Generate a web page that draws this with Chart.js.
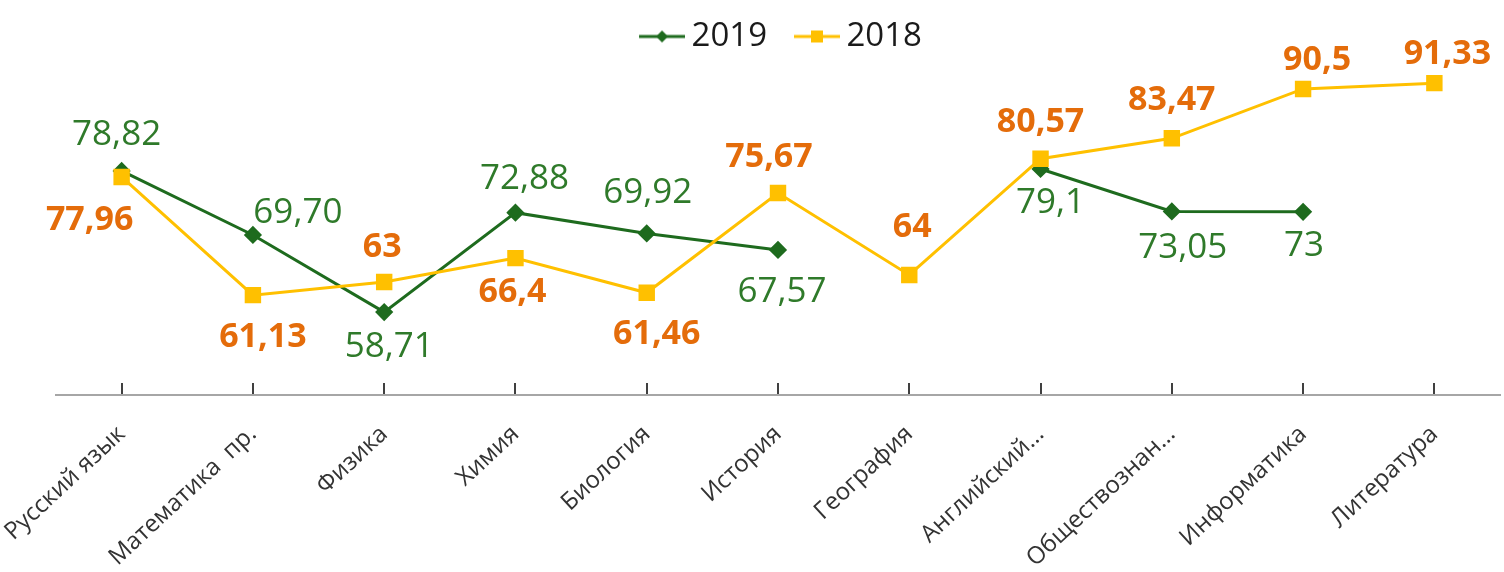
<!DOCTYPE html>
<html>
<head>
<meta charset="utf-8">
<script src="https://cdn.jsdelivr.net/npm/chart.js@4.4.1/dist/chart.umd.min.js"></script>
<style>
  html, body { margin: 0; padding: 0; background: #fff; overflow: hidden; }
  #wrap { width: 1504px; height: 572px; }
</style>
</head>
<body>
<div id="wrap"><canvas id="examChart"></canvas></div>
<script>
// данные
const subjects = ['Русский язык', 'Математика  пр.', 'Физика', 'Химия', 'Биология', 'История',
  'География', 'Английский...', 'Обществознан...', 'Информатика', 'Литература'];
const scores2019 = [78.82, 69.70, 58.71, 72.88, 69.92, 67.57, null, 79.1, 73.05, 73, null];
const scores2018 = [77.96, 61.13, 63, 66.4, 61.46, 75.67, 64, 80.57, 83.47, 90.5, 91.33];
const text2019 = ['78,82', '69,70', '58,71', '72,88', '69,92', '67,57', '', '79,1', '73,05', '73', ''];
const text2018 = ['77,96', '61,13', '63', '66,4', '61,46', '75,67', '64', '80,57', '83,47', '90,5', '91,33'];

// сдвиги подписей относительно точки (px)
const shift2019 = [[-5, -36], [45, -22], [5, 35], [9, -34], [1, -40], [4, 42], null, [10, 34], [11, 37], [1, 34], null];
const shift2018 = [[-32, 43], [10, 42], [-2, -35], [-3, 34], [10, 42], [-9, -36], [3, -48], [0, -36], [0, -38], [14, -29], [13, -29]];

const GREEN = '#1e6b1e';
const GREEN_TEXT = '#2f7a2a';
const YELLOW = '#ffc000';
const ORANGE = '#e46c0a';

// значок легенды: линия с маркером
function legendIcon(color, shape) {
  const c = document.createElement('canvas');
  c.width = 73; c.height = 20;
  const g = c.getContext('2d');
  const x0 = 27, cx = 50;
  g.strokeStyle = color;
  g.lineWidth = 3;
  g.beginPath(); g.moveTo(x0, 10); g.lineTo(73, 10); g.stroke();
  g.fillStyle = color;
  if (shape === 'diamond') {
    g.beginPath();
    g.moveTo(cx, 4); g.lineTo(cx + 6, 10); g.lineTo(cx, 16); g.lineTo(cx - 6, 10);
    g.closePath(); g.fill();
  } else {
    g.fillRect(cx - 6, 4, 12, 12);
  }
  return c;
}
const icons = [legendIcon(GREEN, 'diamond'), legendIcon(YELLOW, 'square')];

const valueLabels = {
  id: 'valueLabels',
  afterLayout(chart) {
    // легенда чуть левее, как в оригинале
    chart.legend.left -= 6;
    chart.legend.right -= 6;
  },
  afterDatasetsDraw(chart) {
    const ctx = chart.ctx;
    ctx.save();
    ctx.textAlign = 'center';
    ctx.textBaseline = 'middle';
    chart.data.datasets.forEach((ds, di) => {
      const meta = chart.getDatasetMeta(di);
      ctx.font = ds.labelFont;
      ctx.fillStyle = ds.labelColor;
      meta.data.forEach((pt, i) => {
        if (ds.data[i] == null || !ds.labelShift[i]) return;
        const [dx, dy] = ds.labelShift[i];
        ctx.fillText(ds.labelText[i], pt.x + dx, pt.y + dy);
      });
    });
    ctx.restore();
  }
};

const ctx = document.getElementById('examChart').getContext('2d');
new Chart(ctx, {
  type: 'line',
  data: {
    labels: subjects,
    datasets: [{
      label: '2019',
      data: scores2019,
      borderColor: GREEN,
      backgroundColor: GREEN,
      borderWidth: 3,
      pointStyle: 'rectRot',
      pointRadius: 7,
      pointHoverRadius: 7,
      order: 1,
      labelText: text2019,
      labelShift: shift2019,
      labelFont: '35px "Open Sans"',
      labelColor: GREEN_TEXT
    }, {
      label: '2018',
      data: scores2018,
      borderColor: YELLOW,
      backgroundColor: YELLOW,
      borderWidth: 3,
      pointStyle: 'rect',
      pointRadius: 9.5,
      pointHoverRadius: 9.5,
      order: 0,
      labelText: text2018,
      labelShift: shift2018,
      labelFont: 'bold 34px "Open Sans"',
      labelColor: ORANGE
    }]
  },
  options: {
    responsive: true,
    maintainAspectRatio: false,
    animation: false,
    spanGaps: false,
    layout: { autoPadding: false, padding: { top: 10, left: 56, right: 4, bottom: 0 } },
    plugins: {
      tooltip: { enabled: false },
      legend: {
        position: 'top',
        labels: {
          usePointStyle: true,
          pointStyleWidth: 53,
          padding: 10,
          color: '#1a1a1a',
          font: { family: 'Open Sans', size: 33 },
          generateLabels(chart) {
            return chart.data.datasets.map((ds, i) => ({
              text: ds.label,
              datasetIndex: i,
              pointStyle: icons[i],
              fillStyle: ds.borderColor,
              strokeStyle: ds.borderColor,
              lineWidth: 0,
              fontColor: '#1a1a1a',
              hidden: false
            }));
          }
        }
      }
    },
    scales: {
      x: {
        offset: true,
        afterFit(scale) {
          scale.height = 177;
          scale.paddingLeft = 0;
          scale.paddingRight = 0;
        },
        border: { color: '#a6a6a6', width: 2 },
        grid: {
          offset: false,
          drawOnChartArea: false,
          drawTicks: true,
          tickLength: -12,
          color: '#404040',
          lineWidth: 2
        },
        ticks: {
          autoSkip: false,
          minRotation: 43,
          maxRotation: 43,
          padding: 37,
          color: '#333333',
          font: { family: 'Open Sans', size: 24 }
        }
      },
      y: {
        display: false,
        min: 46.9,
        max: 94.2
      }
    }
  },
  plugins: [valueLabels]
});
</script>
</body>
</html>
